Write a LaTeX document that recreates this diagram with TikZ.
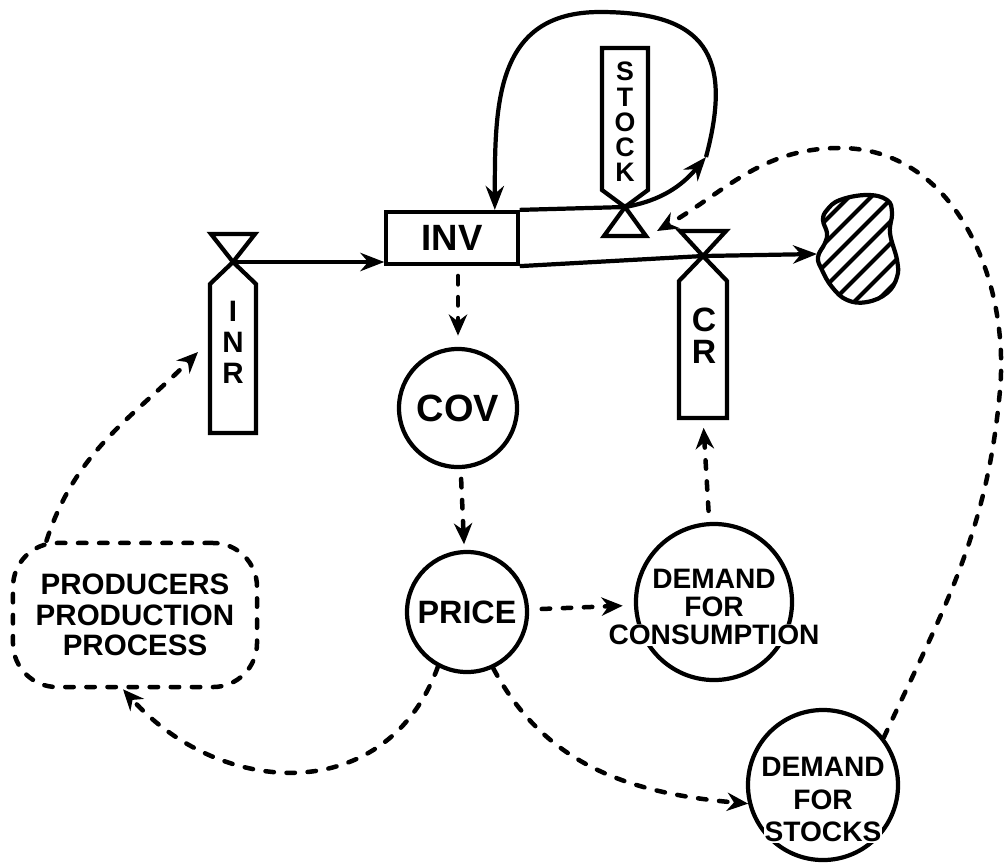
\documentclass[tikz,border=0pt]{standalone}
\usepackage{fontspec}
\setmainfont{Liberation Sans}
\usetikzlibrary{arrows.meta}
\setlength{\fboxsep}{0.8pt}

\tikzset{
  flow/.style={line width=3pt, -{Stealth[length=17pt, width=13pt]}},
  dashline/.style={line width=3.2pt, dash pattern=on 6pt off 9pt, line cap=round},
  info/.style={dashline, -{Stealth[length=15pt, width=13pt]}},
  aux/.style={circle, draw, line width=3pt, inner sep=0pt},
  lbl/.style 2 args={font=\bfseries\fontsize{#1}{#2}\selectfont, align=center, inner sep=0pt}
}

\begin{document}
\begin{tikzpicture}[x=0.025cm, y=-0.025cm, line width=3pt]
    \useasboundingbox (0,0) rectangle (1006,864);

    \node[draw, minimum width=3.28cm, minimum height=1.3cm, lbl={26}{26}] (inv) at (452,238) {INV};
    \coordinate (vi) at (233,262);
    \coordinate (vs) at (625,207);
    \coordinate (vc) at (703,256);
    \coordinate (sink) at (817,254);
    \coordinate (crb) at (703,418);
    \coordinate (lp) at (706,157);
    \coordinate (st) at (657,231);
    \coordinate (inr-in) at (198,352);

    \draw (inv.north east) -- (vs);
    \draw[flow] (inv.south east) -- (vc) -- (sink);
    \draw[flow] (vi) -- (vi -| inv.west);

    \draw (vi) -- ++(-22,-28) -- ++(44,0) -- cycle;
    \draw (vi) -- ++(23,22) -- ++(0,149) -- ++(-46,0) -- ++(0,-149) -- cycle;
    \node[lbl={21}{22}] (inr) at (233,342) {I\\N\\R};

    \draw (vc) -- ++(-23,-25) -- ++(46,0) -- cycle;
    \draw (vc) -- ++(24,25) -- ++(0,137) -- ++(-48,0) -- ++(0,-137) -- cycle;
    \node[lbl={24}{23}] (cr) at (704,336) {C\\R};

    \draw (vs) -- ++(21,29) -- ++(-42,0) -- cycle;
    \draw (vs) -- ++(23,-17) -- ++(0,-142) -- ++(-46,0) -- ++(0,142) -- cycle;
    \node[lbl={19}{18}] (stock) at (625,122) {S\\T\\O\\C\\K};

    \draw[flow] (vs) to[out=10, in=-130] (lp);
    \draw[flow] (lp) to[out=75, in=0, looseness=1.5] (600,12)
        to[out=180, in=90, looseness=1.2] ([xshift=1.07cm]inv.north);

    \begin{scope}
        \clip plot[smooth cycle, tension=0.7] coordinates {(827,210) (840,200) (867,195) (887,200) (892,213) (890,233) (897,260) (897,277) (887,293) (867,302) (847,300) (832,287) (822,270) (818,257) (825,243) (827,233) (823,220)};
        \foreach \c in {1046,1068,...,1178}
            \draw[line width=2.8pt] (\c-330,330) -- (\c-180,180);
    \end{scope}
    \draw plot[smooth cycle, tension=0.7] coordinates {(827,210) (840,200) (867,195) (887,200) (892,213) (890,233) (897,260) (897,277) (887,293) (867,302) (847,300) (832,287) (822,270) (818,257) (825,243) (827,233) (823,220)};

    \node[aux, minimum size=2.95cm, lbl={27}{27}] (cov) at (458,408) {COV};
    \node[aux, minimum size=3cm, lbl={23}{23}] (price) at (467,612) {PRICE};
    \node[aux, minimum size=3.9cm,
        label={[lbl={20}{20}, yshift=-4pt]center:{DEMAND\\FOR\\\colorbox{white}{CONSUMPTION}}}] (dfc) at (714,602) {};
    \node[aux, minimum size=3.75cm,
        label={[lbl={20}{23}, yshift=-10.5pt]center:{\colorbox{white}{DEMAND}\\FOR\\\colorbox{white}{STOCKS}}}] (dfs) at (823,785) {};
    \node[draw, dashline, rounded corners=1.1cm, minimum width=6.1cm, minimum height=3.6cm, lbl={21}{21.5}] (prod) at (135,615) {PRODUCERS\\PRODUCTION\\PROCESS};

    \draw[info, shorten <=7pt, shorten >=8pt] (inv.south -| cov) -- (cov);
    \draw[info, shorten <=7pt, shorten >=4pt] (cov) -- (price);
    \draw[info, shorten <=9pt, shorten >=8pt] (price) -- (dfc);
    \draw[info, shorten <=8pt, shorten >=7pt] (dfc) -- (crb);
    \draw[info] (price.-65) to[out=-62, in=175] (dfs.194);
    \draw[info] (price.-118) to[out=-110, in=-48, looseness=1.2] ([xshift=-0.3cm]prod.south);
    \draw[info] (prod.140) to[out=72, in=-135] (inr-in);
    \draw[info] (dfs.38) to[out=65, in=-95] (1000,390) to[out=85, in=0] (840,148)
        to[out=180, in=30] (st);
\end{tikzpicture}
\end{document}
